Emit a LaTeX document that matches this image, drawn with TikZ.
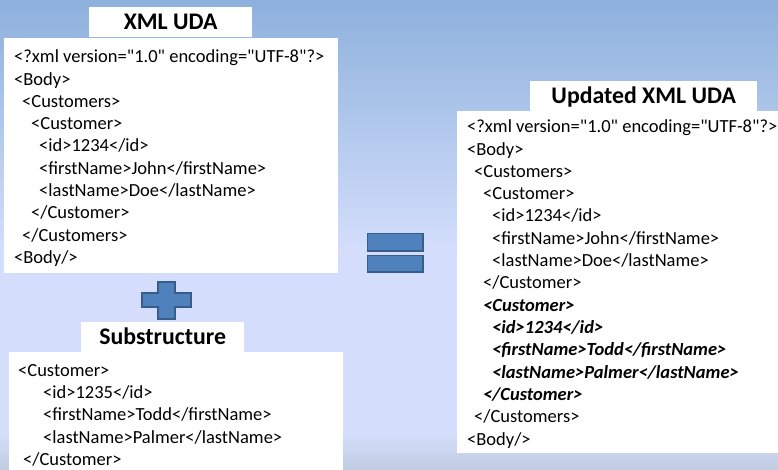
\documentclass[tikz,border=0pt]{standalone}
\usepackage{fontspec}
\setmainfont{Carlito}[Ligatures=TeXOff]
\begin{document}
\begin{tikzpicture}[x=1pt,y=-1pt,
  panel/.style={rectangle, fill=white, draw=none, inner sep=0pt, anchor=north west},
  heading/.style={panel, font=\fontsize{23.8}{28}\selectfont\bfseries,
    text height=15pt, text depth=0pt, align=center},
  codeline/.style={anchor=base west, inner sep=0pt, font=\fontsize{18.5}{21}\selectfont},
  newline/.style={codeline, font=\fontsize{18.5}{21}\selectfont\bfseries\itshape},
  symbol/.style={fill=symfill, draw=symedge, line width=1.6pt, line join=miter}]
\definecolor{bgtop}{HTML}{8DB1DC}
\definecolor{bgmid}{HTML}{D4DEFC}
\definecolor{bgfoot}{HTML}{C0CCE0}
\definecolor{symfill}{HTML}{4F81BD}
\definecolor{symedge}{HTML}{385D8A}
\useasboundingbox (0,0) rectangle (778,470);
% backdrop
\shade[top color=bgtop, bottom color=bgmid] (0,0) rectangle (778,250.5);
\fill[bgmid] (0,250) rectangle (778,433.5);
\shade[top color=bgmid, bottom color=bgfoot] (0,433) rectangle (778,470);

% source document
\node[heading, minimum width=163pt, minimum height=30pt] (xmltitle) at (89,7) {XML UDA};
\node[panel, minimum width=334pt, minimum height=235pt] (xmlbox) at (4,38) {};
\node[codeline] (a1) at (14,62.8) {<?xml version="1.0" encoding="UTF-8"?>};
\node[codeline] (a2) at (14,85.1) {<Body>};
\node[codeline] (a3) at (22,107.4) {<Customers>};
\node[codeline] (a4) at (31,129.7) {<Customer>};
\node[codeline] (a5) at (39,152.0) {<id>1234</id>};
\node[codeline] (a6) at (39,174.3) {<firstName>John</firstName>};
\node[codeline] (a7) at (39,196.6) {<lastName>Doe</lastName>};
\node[codeline] (a8) at (31,218.9) {</Customer>};
\node[codeline] (a9) at (22,241.2) {</Customers>};
\node[codeline] (a10) at (14,263.5) {<Body/>};

% plus sign
\draw[symbol] (158,282) -- (175,282) -- (175,293) -- (191,293) -- (191,307) -- (175,307)
  -- (175,319) -- (158,319) -- (158,307) -- (142,307) -- (142,293) -- (158,293) -- cycle;

% substructure
\node[heading, minimum width=163pt, minimum height=30pt] (subtitle) at (81,322) {Substructure};
\node[panel, minimum width=334pt, minimum height=120pt] (subbox) at (9,352) {};
\node[codeline] (b1) at (18,376.2) {<Customer>};
\node[codeline] (b2) at (43,398.5) {<id>1235</id>};
\node[codeline] (b3) at (43,420.8) {<firstName>Todd</firstName>};
\node[codeline] (b4) at (43,443.1) {<lastName>Palmer</lastName>};
\node[codeline] (b5) at (23,465.4) {</Customer>};

% equals sign
\draw[symbol] (367.5,233.5) rectangle (423,251);
\draw[symbol] (367.5,255.5) rectangle (423,272);

% merged document
\node[heading, minimum width=227pt, minimum height=30pt] (updtitle) at (530,81) {Updated XML UDA};
\node[panel, minimum width=321pt, minimum height=342pt] (updbox) at (457,111) {};
\node[codeline] (c1) at (467,132.8) {<?xml version="1.0" encoding="UTF-8"?>};
\node[codeline] (c2) at (467,155.1) {<Body>};
\node[codeline] (c3) at (474,177.4) {<Customers>};
\node[codeline] (c4) at (483,199.7) {<Customer>};
\node[codeline] (c5) at (492,222.0) {<id>1234</id>};
\node[codeline] (c6) at (492,244.3) {<firstName>John</firstName>};
\node[codeline] (c7) at (492,266.6) {<lastName>Doe</lastName>};
\node[codeline] (c8) at (483,288.9) {</Customer>};
\node[newline] (c9) at (483,311.2) {<Customer>};
\node[newline] (c10) at (492,333.5) {<id>1234</id>};
\node[newline] (c11) at (492,355.8) {<firstName>Todd</firstName>};
\node[newline] (c12) at (492,378.1) {<lastName>Palmer</lastName>};
\node[newline] (c13) at (483,400.4) {</Customer>};
\node[codeline] (c14) at (474,422.7) {</Customers>};
\node[codeline] (c15) at (467,445.0) {<Body/>};
\end{tikzpicture}
\end{document}
